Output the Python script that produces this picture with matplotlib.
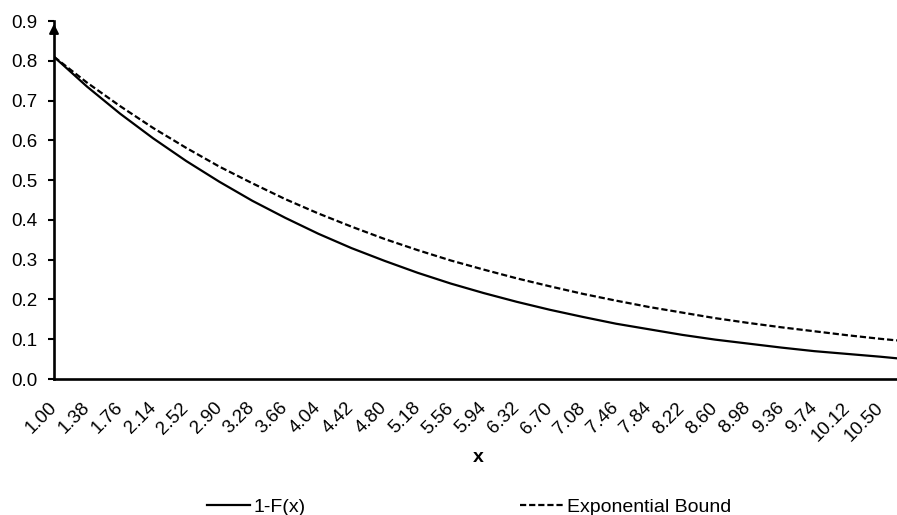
import matplotlib
matplotlib.use("Agg")
import matplotlib.pyplot as plt

# values (category axis, step 0.38 between labels)
x_vals = [1.00, 1.38, 1.76, 2.14, 2.52, 2.90, 3.28, 3.66, 4.04, 4.42,
          4.80, 5.18, 5.56, 5.94, 6.32, 6.70, 7.08, 7.46, 7.84, 8.22,
          8.60, 8.98, 9.36, 9.74, 10.12, 10.50, 10.69]
survival = [0.810, 0.735, 0.667, 0.605, 0.548, 0.496, 0.448, 0.405, 0.365, 0.329,
            0.297, 0.267, 0.240, 0.216, 0.194, 0.174, 0.156, 0.139, 0.125, 0.111,
            0.099, 0.089, 0.079, 0.070, 0.063, 0.056, 0.052]
exp_bound = [0.810, 0.745, 0.686, 0.631, 0.581, 0.534, 0.492, 0.452, 0.416, 0.383,
             0.352, 0.324, 0.298, 0.275, 0.253, 0.233, 0.214, 0.197, 0.181, 0.167,
             0.153, 0.141, 0.130, 0.120, 0.110, 0.101, 0.097]
x_labels = ["1.00", "1.38", "1.76", "2.14", "2.52", "2.90", "3.28", "3.66", "4.04",
            "4.42", "4.80", "5.18", "5.56", "5.94", "6.32", "6.70", "7.08", "7.46",
            "7.84", "8.22", "8.60", "8.98", "9.36", "9.74", "10.12", "10.50"]
y_ticks = [0.0, 0.1, 0.2, 0.3, 0.4, 0.5, 0.6, 0.7, 0.8, 0.9]

plt.rcParams["font.family"] = ["Liberation Sans", "DejaVu Sans"]

W, H = 897, 515
fig = plt.figure(figsize=(W / 100, H / 100), dpi=100)
ax = fig.add_axes([54 / W, 1 - 379 / H, 1 - 54 / W, (379 - 21) / H])

ax.plot(x_vals, survival, color="black", lw=1.6, label="1-F(x)")
ax.plot(x_vals, exp_bound, color="black", lw=1.6, dashes=(2.8, 1.3),
        label="Exponential Bound")

ax.set_xlim(x_vals[0], x_vals[-1])
ax.set_ylim(0, 0.9)

ax.set_yticks(y_ticks)
ax.set_yticklabels([f"{v:.1f}" for v in y_ticks], fontsize=13.5)
ax.set_xticks(x_vals[:len(x_labels)])
ax.set_xticklabels(x_labels, rotation=45, ha="right", va="center",
                   rotation_mode="anchor", fontsize=13.5)
ax.tick_params(axis="x", length=0, pad=19)
ax.tick_params(axis="y", length=4, width=1.5, pad=8, direction="out")

for side in ["top", "right"]:
    ax.spines[side].set_visible(False)
for side in ["left", "bottom"]:
    ax.spines[side].set_linewidth(1.9)

# arrow head on top of the y axis
ax.annotate("", xy=(0, 1.0), xytext=(0, 0.96), xycoords="axes fraction",
            arrowprops=dict(arrowstyle="-|>", color="black", lw=1.5,
                            mutation_scale=14),
            annotation_clip=False)

fig.text(478 / W, 1 - 458 / H, "x", fontsize=14, fontweight="bold",
         ha="center", va="center")

fig.legend(loc="center", bbox_to_anchor=(469 / W, 1 - 507 / H), ncol=2,
           frameon=False, fontsize=14, handlelength=2.2, handletextpad=0.2,
           columnspacing=11, borderpad=0)

fig.savefig("out.png", dpi=100)
